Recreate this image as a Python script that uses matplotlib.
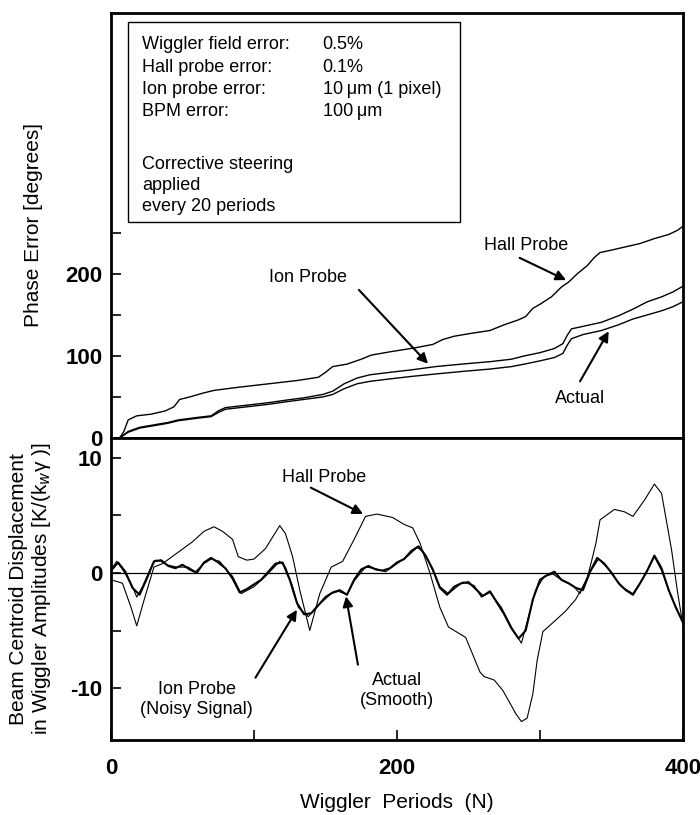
import numpy as np
import matplotlib.pyplot as plt
from matplotlib.patches import Rectangle

plt.rcParams['font.family'] = ['Liberation Sans', 'DejaVu Sans']

# 上段: 位相誤差 [degrees]
n_ph_hall = [0, 6, 9, 12, 18, 28, 38, 44, 48, 55, 65, 72, 90, 110, 130, 145, 150, 155, 165, 175,
             182, 195, 213, 225, 232, 240, 250, 265, 275, 285, 290, 295, 300, 308, 315, 320, 326,
             333, 338, 342, 350, 360, 370, 380, 390, 396, 400]
ph_hall = [0, 0, 8, 22, 27, 29, 33, 38, 47, 50, 55, 58, 62, 66, 70, 74, 80, 87, 90, 96,
           101, 105, 110, 114, 120, 124, 127, 131, 138, 144, 148, 158, 163, 172, 184, 190, 200,
           210, 220, 226, 229, 233, 237, 243, 248, 253, 258]

n_ph_ion = [0, 6, 12, 20, 30, 40, 47, 60, 70, 75, 80, 95, 110, 122, 135, 148, 155, 163, 172, 181,
            195, 210, 227, 245, 265, 280, 289, 300, 310, 316, 319, 322, 330, 343, 355, 365, 375,
            385, 393, 400]
ph_ion = [0, 0, 8, 13, 16, 19, 22, 25, 27, 33, 37, 40, 43, 46, 49, 53, 57, 66, 73, 77,
          80, 83, 87, 90, 93, 96, 100, 104, 109, 115, 125, 133, 136, 141, 149, 157, 166,
          172, 178, 185]
ph_actual = [0, 0, 7, 12, 15, 18, 21, 24, 26, 31, 35, 38, 41, 44, 47, 50, 53, 60, 66, 69,
             72, 75, 78, 81, 84, 87, 90, 94, 98, 103, 113, 121, 126, 131, 138, 145, 150,
             155, 160, 166]

# 下段: ビーム重心変位
n_d_hall = [0, 8, 14, 18, 23, 30, 36, 46, 57, 65, 72, 78, 85, 89, 95, 100, 108, 118, 122, 127,
            132, 139, 146, 154, 162, 170, 178, 186, 197, 205, 211, 216, 223, 230, 236, 248, 252,
            258, 261, 268, 274, 279, 283, 287, 291, 295, 298, 302, 311, 318, 325, 333, 339, 342,
            352, 359, 365, 373, 380, 385, 392, 396, 400]
d_hall = [-0.6, -0.9, -3.0, -4.6, -2.4, 0.5, 0.8, 1.7, 2.7, 3.6, 4.0, 3.6, 2.9, 1.4, 1.1, 1.2,
          2.1, 4.1, 3.4, 1.4, -1.5, -5.0, -1.8, 0.5, 1.0, 2.9, 4.9, 5.1, 4.8, 4.2, 3.9, 2.6,
          0.0, -3.0, -4.7, -5.6, -6.8, -8.6, -9.0, -9.3, -10.2, -11.3, -12.2, -12.9, -12.6,
          -10.5, -7.6, -5.1, -4.1, -3.3, -2.3, -0.5, 2.5, 4.6, 5.5, 5.3, 4.9, 6.3, 7.7, 6.9,
          2.0, -1.5, -4.6]

n_d_act = [0, 4, 8, 14, 18, 22, 27, 31, 35, 39, 46, 54, 59, 65, 70, 76, 81, 85, 91, 100,
           108, 118, 122, 127, 131, 138, 146, 154, 159, 165, 170, 178, 184, 192, 200, 208, 214,
           218, 222, 227, 230, 236, 246, 254, 259, 265, 273, 280, 287, 292, 297, 303, 309, 316,
           323, 328, 334, 341, 349, 357, 365, 373, 380, 385, 392, 399, 400]
d_act = [0.3, 1.0, 0.3, -0.9, -2.1, -1.2, 0.2, 1.1, 1.0, 0.7, 0.5, 0.5, 0.1, 0.8, 1.2, 1.0,
         0.2, -0.3, -1.8, -1.2, -0.3, 1.0, 0.5, -1.2, -3.0, -3.8, -2.7, -1.8, -1.6, -1.9,
         -0.7, 0.5, 0.4, 0.1, 0.8, 1.5, 2.2, 1.9, 1.0, -0.3, -1.2, -1.8, -0.8, -1.1, -2.1,
         -1.7, -3.0, -4.7, -6.1, -3.8, -1.5, -0.3, -0.1, -0.7, -1.1, -1.8, -0.1, 1.2, 0.2,
         -1.2, -1.8, -0.3, 1.4, 0.2, -2.1, -4.1, -4.2]

n_d_ion = list(range(0, 401, 5))
d_ion = [0.2, 0.9, 0.1, -1.3, -1.9, -0.5, 1.0, 1.1, 0.6, 0.4, 0.7, 0.3, 0.0, 0.9, 1.3, 0.9,
         0.4, -0.5, -1.7, -1.4, -1.0, -0.6, 0.1, 0.8, 0.9, -0.6, -2.6, -3.6, -3.5, -2.8, -2.1,
         -1.7, -1.5, -1.9, -0.6, 0.3, 0.6, 0.3, 0.2, 0.4, 0.9, 1.2, 1.9, 2.3, 1.5, 0.3, -1.3,
         -1.9, -1.2, -0.9, -0.8, -1.4, -2.0, -1.6, -2.6, -3.6, -4.8, -5.7, -5.0, -2.3, -0.6,
         -0.2, 0.1, -0.6, -0.9, -1.3, -1.5, 0.1, 1.3, 0.8, 0.0, -0.9, -1.5, -1.9, -0.9, 0.2,
         1.5, 0.4, -1.5, -3.0, -4.3]

box_left = ['Wiggler field error:', 'Hall probe error:', 'Ion probe error:', 'BPM error:']
box_right = ['0.5%', '0.1%', '10\u2009\u03bcm (1 pixel)', '100\u2009\u03bcm']
box_note = 'Corrective steering\napplied\nevery 20 periods'

fig = plt.figure(figsize=(7, 8.15), dpi=100)
ax1 = fig.add_axes([0.1586, 0.4626, 0.8171, 0.5215])
ax2 = fig.add_axes([0.1586, 0.092, 0.8171, 0.3706])

# 上段
ax1.plot(n_ph_hall, ph_hall, color='k', lw=1.0)
ax1.plot(n_ph_ion, ph_ion, color='k', lw=1.0)
ax1.plot(n_ph_ion, ph_actual, color='k', lw=1.0)
ax1.set_xlim(0, 400)
ax1.set_ylim(0, 518)
ax1.set_xticks([])
ax1.set_yticks([0, 50, 100, 150, 200, 250])
ax1.set_yticklabels(['0', '', '100', '', '200', ''], fontweight='bold')

ax1.add_patch(Rectangle((12, 263), 232, 244, fill=False, lw=1.0, color='k'))
for i in range(4):
    ax1.text(22, 479 - 27.2 * i, box_left[i], fontsize=13, va='center')
    ax1.text(148, 479 - 27.2 * i, box_right[i], fontsize=13, va='center')
ax1.text(22, 308, box_note, fontsize=13, va='center', linespacing=1.3)

ax1.text(290, 235, 'Hall Probe', fontsize=13, ha='center', va='center')
ax1.text(138, 196, 'Ion Probe', fontsize=13, ha='center', va='center')
ax1.text(328, 48, 'Actual', fontsize=13, ha='center', va='center')
arrow = dict(arrowstyle='-|>', color='k', lw=1.5, mutation_scale=15)
ax1.annotate('', xy=(320, 191), xytext=(284, 221), arrowprops=arrow)
ax1.annotate('', xy=(223, 88), xytext=(172, 183), arrowprops=arrow)
ax1.annotate('', xy=(349, 133), xytext=(327, 66), arrowprops=arrow)

# 下段
ax2.axhline(0, color='k', lw=0.9)
ax2.plot(n_d_hall, d_hall, color='k', lw=0.8)
ax2.plot(n_d_act, d_act, color='k', lw=0.8)
ax2.plot(n_d_ion, d_ion, color='k', lw=1.5)
ax2.set_xlim(0, 400)
ax2.set_ylim(-14.5, 11.7)
ax2.set_yticks([-10, -5, 0, 5, 10])
ax2.set_yticklabels(['-10', '', '0', '', '10'], fontweight='bold')
ax2.set_xticks([0, 100, 200, 300, 400])
ax2.set_xticklabels(['0', '', '200', '', '400'], fontweight='bold')

ax2.text(149, 8.3, 'Hall Probe', fontsize=13, ha='center', va='center')
ax2.text(60, -11.0, 'Ion Probe\n(Noisy Signal)', fontsize=13, ha='center', va='center')
ax2.text(200, -10.2, 'Actual\n(Smooth)', fontsize=13, ha='center', va='center')
ax2.annotate('', xy=(178, 5.0), xytext=(138, 7.5), arrowprops=arrow)
ax2.annotate('', xy=(131, -3.0), xytext=(100, -9.3), arrowprops=arrow)
ax2.annotate('', xy=(164, -1.8), xytext=(173, -8.2), arrowprops=arrow)

for ax in (ax1, ax2):
    for s in ax.spines.values():
        s.set_linewidth(2)
    ax.tick_params(direction='in', length=7, width=1.2, labelsize=16, pad=6)
ax2.tick_params(axis='x', pad=13)

ax2.set_xlabel('Wiggler  Periods  (N)', fontsize=15, labelpad=10)
fig.text(0.048, 0.7234, 'Phase Error [degrees]', rotation=90, fontsize=15,
         ha='center', va='center')
fig.text(0.044, 0.2773, 'Beam Centroid Displacement\nin Wiggler Amplitudes [K/(k$_w$\u03b3 )]',
         rotation=90, fontsize=15, ha='center', va='center', linespacing=1.1)

fig.savefig('out.png', dpi=100)
